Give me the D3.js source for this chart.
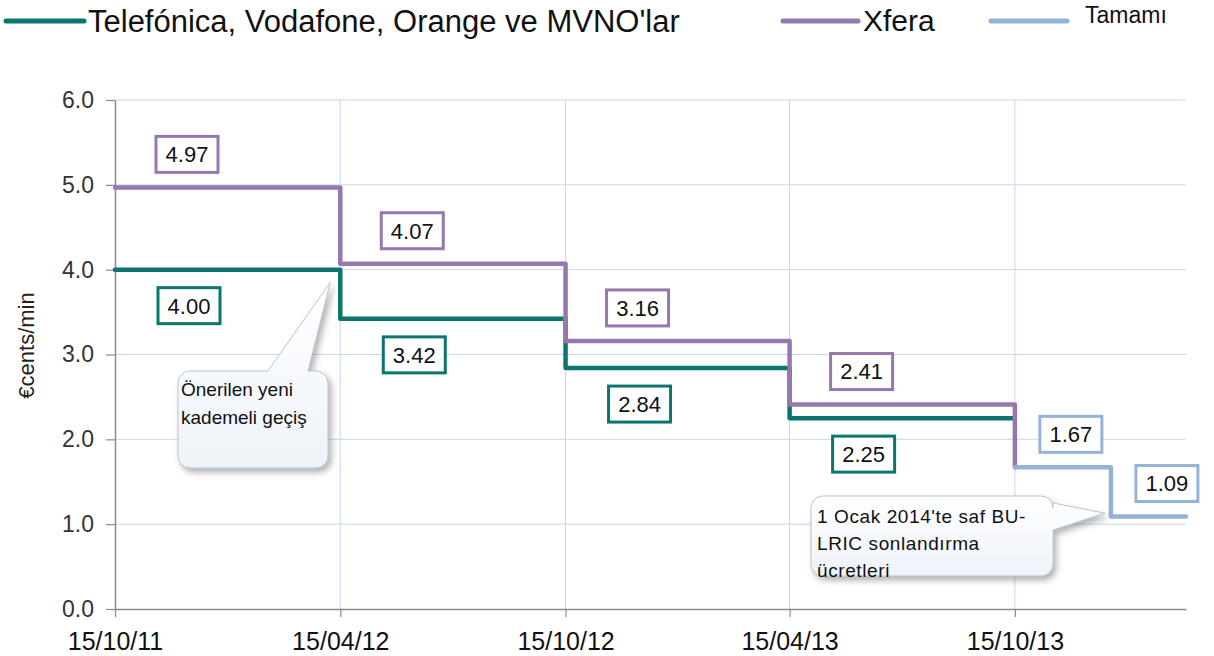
<!DOCTYPE html>
<html>
<head>
<meta charset="utf-8">
<script src="https://d3js.org/d3.v7.min.js"></script>
<style>
  body { margin: 0; background: #fff; }
  text { font-family: "Liberation Sans", Arial, sans-serif; }
</style>
</head>
<body>
<svg id="chart" width="1214" height="656"></svg>
<script>
// step dates (start of each price period) and the prices in €cents/min
var periodStarts = ["2011-10-15", "2012-04-15", "2012-10-15", "2013-04-15"];
var periodEnd = "2013-10-15";
var operatorValues = [4.00, 3.42, 2.84, 2.25];   // Telefónica, Vodafone, Orange ve MVNO'lar
var xferaValues = [4.97, 4.07, 3.16, 2.41];      // Xfera
var totalStarts = ["2013-10-15", "2014-01-01"];
var totalEnd = "2014-03-03";
var totalValues = [1.67, 1.09];                  // Tamamı
var xTickDates = ["2011-10-15", "2012-04-15", "2012-10-15", "2013-04-15", "2013-10-15"];
var yTicks = [0, 1, 2, 3, 4, 5, 6];
var seriesNames = ["Telefónica, Vodafone, Orange ve MVNO'lar", "Xfera", "Tamamı"];

var teal = "#0b766f", purple = "#9678ae", lightBlue = "#95b3d7";
var parse = d3.utcParse("%Y-%m-%d");

var svg = d3.select("#chart"),
    margin = {top: 100, left: 115, bottom: 47, right: 28},
    width = +svg.attr("width"),
    height = +svg.attr("height");

var x = d3.scaleUtc()
    .domain([parse(periodStarts[0]), parse(totalEnd)])
    .range([margin.left, width - margin.right]);

var y = d3.scaleLinear()
    .domain([0, 6])
    .range([height - margin.bottom, margin.top]);

var defs = svg.append("defs");
var shadow = defs.append("filter").attr("id", "shadow")
    .attr("x", "-20%").attr("y", "-20%").attr("width", "150%").attr("height", "160%");
shadow.append("feDropShadow")
    .attr("dx", 3).attr("dy", 4).attr("stdDeviation", 3)
    .attr("flood-color", "#555").attr("flood-opacity", 0.45);
var grad = defs.append("linearGradient").attr("id", "calloutFill")
    .attr("x1", 0).attr("y1", 0).attr("x2", 0).attr("y2", 1);
grad.append("stop").attr("offset", "0%").attr("stop-color", "#ffffff");
grad.append("stop").attr("offset", "100%").attr("stop-color", "#eef3f9");

// Gridlines
svg.append("g")
    .selectAll("line.h")
    .data(yTicks.slice(1))
    .enter().append("line")
    .attr("x1", margin.left).attr("x2", width - margin.right)
    .attr("y1", d => y(d)).attr("y2", d => y(d))
    .attr("stroke", "#c8d6ea").attr("stroke-width", 1);

svg.append("g")
    .selectAll("line.v")
    .data(xTickDates.slice(1))
    .enter().append("line")
    .attr("x1", d => x(parse(d))).attr("x2", d => x(parse(d)))
    .attr("y1", y(6)).attr("y2", y(0))
    .attr("stroke", "#c8d6ea").attr("stroke-width", 1);

// Axes
var yAxis = d3.axisLeft(y)
    .tickValues(yTicks)
    .tickFormat(d3.format(".1f"))
    .tickSize(9)
    .tickSizeOuter(0)
    .tickPadding(12);

var yg = svg.append("g")
    .attr("transform", `translate(${margin.left},0)`)
    .call(yAxis);

var xAxis = d3.axisBottom(x)
    .tickValues(xTickDates.map(parse))
    .tickFormat(d3.utcFormat("%d/%m/%y"))
    .tickSize(8)
    .tickSizeOuter(0)
    .tickPadding(15);

var xg = svg.append("g")
    .attr("transform", `translate(0,${y(0)})`)
    .call(xAxis);

[yg, xg].forEach(function (g) {
    g.select(".domain").attr("stroke", "#8a8a8a").attr("stroke-width", 1.5);
    g.selectAll(".tick line").attr("stroke", "#8a8a8a").attr("stroke-width", 1.2);
    g.selectAll(".tick text").attr("fill", "#333").style("font-size", "23px");
});
xg.selectAll(".tick text").attr("fill", "#111").style("font-size", "25px");

// Label y-axis
svg.append("text")
    .attr("transform", `translate(34,${y(3) - 9}) rotate(-90)`)
    .style("text-anchor", "middle")
    .style("font-size", "22px")
    .attr("fill", "#222")
    .text("€cents/min");

// Build step points
function steps(starts, values, endDate, endValue) {
    var pts = starts.map((d, i) => ({date: parse(d), value: values[i]}));
    pts.push({date: parse(endDate), value: endValue});
    return pts;
}

var line = d3.line()
    .x(d => x(d.date))
    .y(d => y(d.value))
    .curve(d3.curveStepAfter);

var operatorPts = steps(periodStarts, operatorValues, periodEnd, operatorValues[operatorValues.length - 1]);
var xferaPts = steps(periodStarts, xferaValues, totalStarts[0], totalValues[0]);
var totalPts = steps(totalStarts, totalValues, totalEnd, totalValues[totalValues.length - 1]);

var series = [
    {pts: operatorPts, color: teal, starts: periodStarts, values: operatorValues, dy: 36, dx: 74},
    {pts: xferaPts, color: purple, starts: periodStarts, values: xferaValues, dy: -33, dx: 72},
    {pts: totalPts, color: lightBlue, starts: totalStarts, values: totalValues, dy: -33, dx: 56}
];

series.forEach(function (s) {
    svg.append("path")
        .datum(s.pts)
        .attr("d", line)
        .attr("fill", "none")
        .attr("stroke", s.color)
        .attr("stroke-width", 4.5)
        .attr("stroke-linejoin", "round")
        .attr("stroke-linecap", "round");
});

// Value labels in boxes
series.forEach(function (s) {
    var g = svg.append("g").selectAll("g")
        .data(s.starts.map((d, i) => ({date: parse(d), value: s.values[i]})))
        .enter().append("g")
        .attr("transform", d => `translate(${x(d.date) + s.dx},${y(d.value) + s.dy})`);
    g.append("rect")
        .attr("x", -31).attr("y", -18)
        .attr("width", 62).attr("height", 36)
        .attr("fill", "#fff")
        .attr("stroke", s.color)
        .attr("stroke-width", 3);
    g.append("text")
        .attr("text-anchor", "middle")
        .attr("dy", "0.36em")
        .style("font-size", "22px")
        .attr("fill", "#111")
        .text(d => d.value.toFixed(2));
});

// Callouts
function callout(bx, by, bw, bh, r, side, t1, t2, tip) {
    var p = d3.path();
    p.moveTo(bx + r, by);
    if (side === "top") {
        p.lineTo(t1, by);
        p.lineTo(tip[0], tip[1]);
        p.lineTo(t2, by);
    }
    p.lineTo(bx + bw - r, by);
    p.arcTo(bx + bw, by, bx + bw, by + r, r);
    if (side === "right") {
        p.lineTo(bx + bw, t1);
        p.lineTo(tip[0], tip[1]);
        p.lineTo(bx + bw, t2);
    }
    p.lineTo(bx + bw, by + bh - r);
    p.arcTo(bx + bw, by + bh, bx + bw - r, by + bh, r);
    p.lineTo(bx + r, by + bh);
    p.arcTo(bx, by + bh, bx, by + bh - r, r);
    p.lineTo(bx, by + r);
    p.arcTo(bx, by, bx + r, by, r);
    p.closePath();
    return p.toString();
}

var callouts = [
    {box: [178, 371, 150, 97], side: "top", base: [268, 308],
     tip: [x(parse("2012-04-15")) - 10, y(3.85)],
     lines: ["Önerilen yeni", "kademeli geçiş"], tx: 181, ty: 396, lh: 28, size: 19, ls: 0},
    {box: [811, 496, 242, 80], side: "right", base: [503, 530],
     tip: [x(parse("2013-12-27")), y(1.13)],
     lines: ["1 Ocak 2014'te saf BU-", "LRIC sonlandırma", "ücretleri"], tx: 817, ty: 523, lh: 27, size: 19, ls: 0.6}
];

callouts.forEach(function (c) {
    svg.append("path")
        .attr("d", callout(c.box[0], c.box[1], c.box[2], c.box[3], 12, c.side, c.base[0], c.base[1], c.tip))
        .attr("fill", "url(#calloutFill)")
        .attr("stroke", "#b7c6da")
        .attr("stroke-width", 1)
        .attr("filter", "url(#shadow)");
    svg.append("g").selectAll("text")
        .data(c.lines)
        .enter().append("text")
        .attr("x", c.tx)
        .attr("y", (d, i) => c.ty + i * c.lh)
        .style("font-size", c.size + "px")
        .style("letter-spacing", c.ls + "px")
        .attr("fill", "#111")
        .text(d => d);
});

// Legend
var legendItems = [
    {name: seriesNames[0], color: teal, x1: 6, x2: 84, tx: 88, size: 31, ty: 32},
    {name: seriesNames[1], color: purple, x1: 783, x2: 858, tx: 863, size: 30, ty: 31},
    {name: seriesNames[2], color: lightBlue, x1: 991, x2: 1067, tx: 1085, size: 23, ty: 23}
];

var legend = svg.selectAll(".legend")
    .data(legendItems)
    .enter().append("g")
    .attr("class", "legend");

legend.append("line")
    .attr("x1", d => d.x1).attr("x2", d => d.x2)
    .attr("y1", 21).attr("y2", 21)
    .attr("stroke", d => d.color)
    .attr("stroke-width", 5)
    .attr("stroke-linecap", "round");

legend.append("text")
    .attr("x", d => d.tx)
    .attr("y", d => d.ty)
    .style("font-size", d => d.size + "px")
    .attr("fill", "#111")
    .text(d => d.name);
</script>
</body>
</html>
